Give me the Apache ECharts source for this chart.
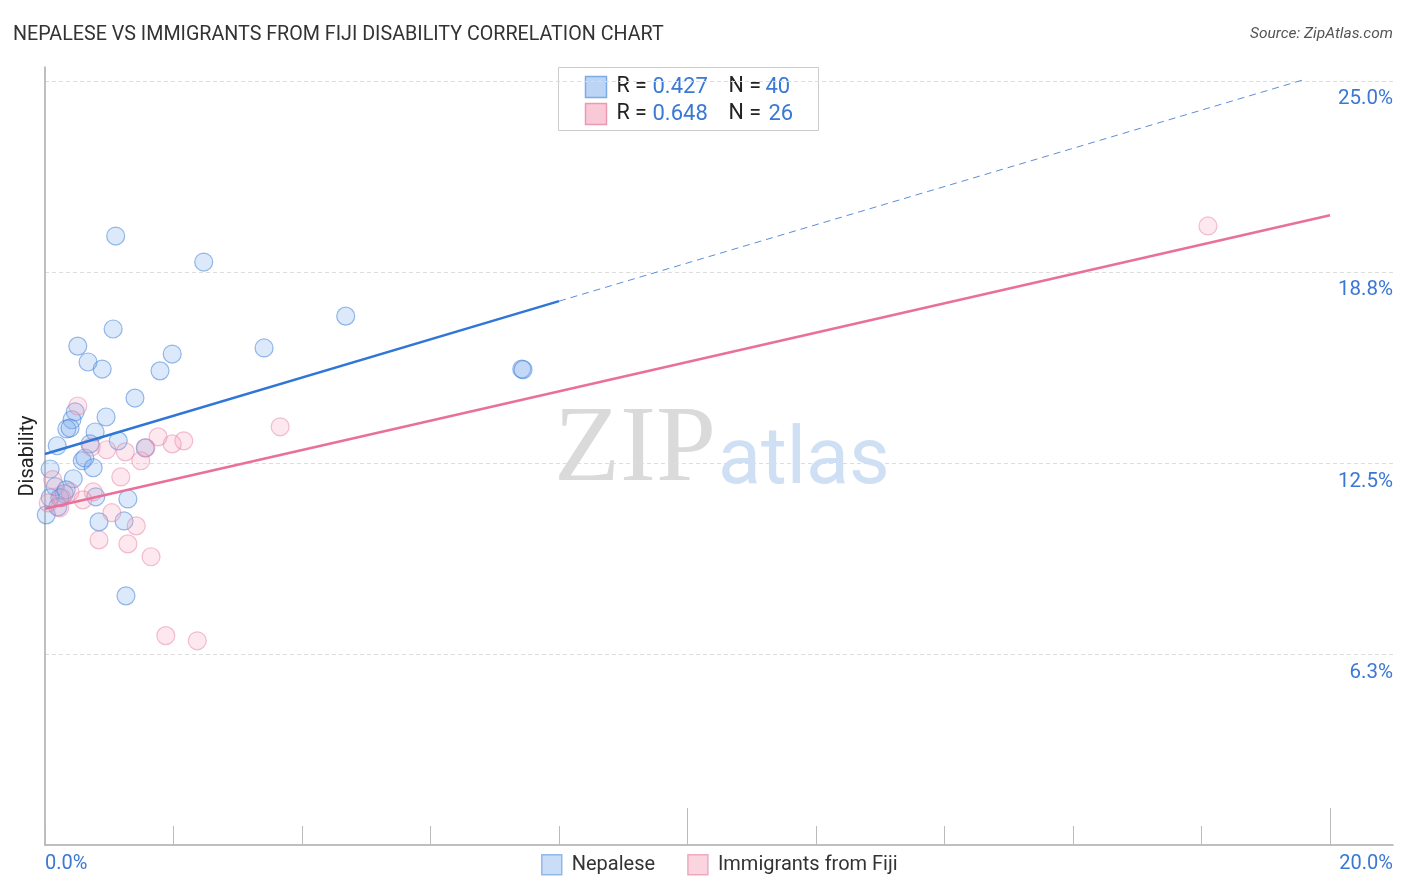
<!DOCTYPE html>
<html>
<head>
<meta charset="utf-8">
<script src="https://cdn.jsdelivr.net/npm/echarts@6/dist/echarts.min.js"></script>
<style>html,body{margin:0;padding:0;background:#fff;}#c{width:1406px;height:892px;}</style>
</head>
<body>
<div id="c"></div>
<script>
// ---- data ----
const seriesNames = ['Nepalese', 'Immigrants from Fiji'];
const nepaleseX = [1.10, 2.47, 4.68, 1.06, 0.51, 3.41, 1.98, 0.67, 0.89, 1.79, 7.42, 7.44, 1.40, 0.47, 0.95, 0.42, 0.34, 0.39, 0.78, 0.19,
                   1.14, 0.70, 1.56, 0.58, 0.62, 0.75, 0.08, 0.44, 0.16, 0.30, 0.23, 0.08, 0.79, 1.29, 0.20, 0.02, 0.84, 1.23, 1.26, 0.33];
const nepaleseY = [19.92, 19.07, 17.30, 16.88, 16.32, 16.26, 16.06, 15.80, 15.57, 15.51, 15.57, 15.55, 14.62, 14.17, 14.00, 13.91, 13.61, 13.64, 13.51, 13.06,
                   13.22, 13.12, 12.99, 12.57, 12.66, 12.34, 12.30, 11.98, 11.72, 11.49, 11.36, 11.36, 11.39, 11.32, 11.06, 10.80, 10.57, 10.60, 8.15, 11.62];
const fijiX = [18.10, 3.66, 0.51, 1.76, 2.16, 1.98, 1.57, 0.96, 1.25, 1.49, 0.72, 1.18, 0.75, 1.04, 1.42, 0.84, 1.29, 1.65, 1.88, 2.37,
               0.12, 0.39, 0.59, 0.23, 0.05, 0.26];
const fijiY = [20.25, 13.68, 14.36, 13.35, 13.22, 13.12, 12.99, 12.93, 12.86, 12.57, 13.02, 12.04, 11.55, 10.87, 10.44, 9.98, 9.85, 9.43, 6.85, 6.68,
               11.95, 11.55, 11.29, 11.03, 11.19, 11.36];
const nepaleseTrendX = [0, 8.0];
const nepaleseTrendY = [12.79, 17.79];
const nepaleseTrendExtX = [8.0, 19.6];
const nepaleseTrendExtY = [17.79, 25.04];
const fijiTrendX = [0, 20];
const fijiTrendY = [11.0, 20.6];
const rValues = ['0.427', '0.648'];
const xTickValues = [0, 2, 4, 6, 8, 10, 12, 14, 16, 18, 20];
const xMajorTickValues = [10, 20];
const xLabelValues = [0, 20.98];
const xTickLabels = ['0.0%', '20.0%'];
const yTickValues = [6.25, 12.5, 18.75, 25];
const yTickLabels = ['6.3%', '12.5%', '18.8%', '25.0%'];
const xMin = 0, xMax = 20.98, yMin = 0, yMax = 25.45;

const zip = (xs, ys) => xs.map((x, i) => [x, ys[i]]);
const blue = '#2f76d6', pink = '#e8709a';
const FONT = 'Roboto, "Noto Sans", sans-serif';

const chart = echarts.init(document.getElementById('c'));
chart.setOption({
  backgroundColor: '#fff',
  animation: false,
  title: [
    { text: 'NEPALESE VS IMMIGRANTS FROM FIJI DISABILITY CORRELATION CHART', left: 8, top: 20,
      textStyle: { fontFamily: FONT, fontSize: 19.7, fontWeight: 'normal', color: '#333' } },
    { text: 'Source: ZipAtlas.com', right: 8, top: 21,
      textStyle: { fontFamily: FONT, fontSize: 15.5, fontStyle: 'italic', fontWeight: 'normal', color: '#555' } }
  ],
  grid: { left: 45, right: 13, top: 67, bottom: 47, containLabel: false },
  legend: {
    left: 536, top: 849, itemWidth: 20, itemHeight: 20, itemGap: 32, icon: 'rect',
    textStyle: { fontFamily: FONT, fontSize: 20, color: '#333', padding: [0, 0, 0, 5] },
    data: [
      { name: seriesNames[0], itemStyle: { color: '#bcd5f5', borderColor: '#7eaae6', borderWidth: 1.5 } },
      { name: seriesNames[1], itemStyle: { color: '#f9c9d7', borderColor: '#eb9ab4', borderWidth: 1.5 } }
    ]
  },
  xAxis: [
    { type: 'value', min: xMin, max: xMax, interval: 2,
      axisLine: { show: true, lineStyle: { color: '#aaa', width: 1.5 } },
      axisTick: { show: true, inside: true, length: 19, customValues: xTickValues, lineStyle: { color: '#bbb' } },
      axisLabel: { show: true, customValues: xLabelValues, margin: 9,
        formatter: (v) => v < 1 ? xTickLabels[0] : xTickLabels[1],
        alignMinLabel: 'left', alignMaxLabel: 'right',
        fontFamily: FONT, fontSize: 20, color: '#3a78d4' },
      splitLine: { show: false } },
    { type: 'value', min: xMin, max: xMax, interval: 10, position: 'bottom',
      axisLine: { show: false },
      axisTick: { show: true, inside: true, length: 37, customValues: xMajorTickValues, lineStyle: { color: '#bbb' } },
      axisLabel: { show: false }, splitLine: { show: false } }
  ],
  yAxis: [
    { type: 'value', min: yMin, max: yMax, interval: 6.25, position: 'right',
      axisLine: { show: false }, axisTick: { show: false },
      axisLabel: { show: true, inside: true, customValues: yTickValues,
        formatter: (v) => yTickLabels[yTickValues.indexOf(v)],
        align: 'right', verticalAlign: 'top', padding: [8, 0, 0, 0], margin: 0,
        fontFamily: FONT, fontSize: 20.5, color: '#3a78d4' },
      splitLine: { show: true, showMinLine: false, showMaxLine: false, lineStyle: { color: '#ddd', type: [4, 3], width: 1 } } },
    { type: 'value', min: yMin, max: yMax, position: 'left', name: 'Disability',
      nameLocation: 'middle', nameGap: 7, nameRotate: 90,
      nameTextStyle: { fontFamily: FONT, fontSize: 20, color: '#222' },
      axisLine: { show: true, lineStyle: { color: '#aaa', width: 1.5 } }, axisTick: { show: false },
      axisLabel: { show: false }, splitLine: { show: false } }
  ],
  graphic: [
    { type: 'text', left: 554, top: 398, z: 0, silent: true,
      style: { text: 'ZIP', font: '108px "Liberation Serif", "DejaVu Serif", serif', fill: '#dadada' } },
    { type: 'text', left: 718, top: 424, z: 0, silent: true,
      style: { text: 'atlas', font: '79px Roboto, "Noto Sans", sans-serif', fill: '#d0e0f4' } },
    { type: 'group', left: 558, top: 67, z: 100, children: [
      { type: 'rect', shape: { x: 0, y: 0, width: 260, height: 63 }, style: { fill: '#fff', stroke: '#ccc', lineWidth: 1 } },
      { type: 'rect', shape: { x: 27, y: 9, width: 21, height: 21 }, style: { fill: '#bcd5f5', stroke: '#7eaae6', lineWidth: 1.5 } },
      { type: 'rect', shape: { x: 27, y: 36, width: 21, height: 21 }, style: { fill: '#f9c9d7', stroke: '#eb9ab4', lineWidth: 1.5 } },
      { type: 'text', x: 58, y: 19.5, style: { text: 'R = ', font: '21.5px ' + FONT, fill: '#222', verticalAlign: 'middle' } },
      { type: 'text', x: 94, y: 19.5, style: { text: rValues[0], font: '22px ' + FONT, fill: '#3a78d4', verticalAlign: 'middle' } },
      { type: 'text', x: 170, y: 19.5, style: { text: 'N = ', font: '21.5px ' + FONT, fill: '#222', verticalAlign: 'middle' } },
      { type: 'text', x: 207, y: 19.5, style: { text: String(nepaleseX.length), font: '22px ' + FONT, fill: '#3a78d4', verticalAlign: 'middle' } },
      { type: 'text', x: 58, y: 46.5, style: { text: 'R = ', font: '21.5px ' + FONT, fill: '#222', verticalAlign: 'middle' } },
      { type: 'text', x: 94, y: 46.5, style: { text: rValues[1], font: '22px ' + FONT, fill: '#3a78d4', verticalAlign: 'middle' } },
      { type: 'text', x: 170, y: 46.5, style: { text: 'N = ', font: '21.5px ' + FONT, fill: '#222', verticalAlign: 'middle' } },
      { type: 'text', x: 210, y: 46.5, style: { text: String(fijiX.length), font: '22px ' + FONT, fill: '#3a78d4', verticalAlign: 'middle' } }
    ]}
  ],
  series: [
    { name: seriesNames[0], type: 'scatter', data: zip(nepaleseX, nepaleseY), symbolSize: 18, z: 3,
      itemStyle: { color: 'rgba(120,170,235,0.32)', borderColor: 'rgba(60,125,215,0.65)', borderWidth: 1.2 } },
    { name: seriesNames[1], type: 'scatter', data: zip(fijiX, fijiY), symbolSize: 18, z: 3,
      itemStyle: { color: 'rgba(245,165,190,0.32)', borderColor: 'rgba(230,125,160,0.6)', borderWidth: 1.2 } },
    { name: seriesNames[0], type: 'line', data: zip(nepaleseTrendX, nepaleseTrendY), symbol: 'none', z: 5,
      lineStyle: { color: blue, width: 2.5 } },
    { name: seriesNames[0], type: 'line', data: zip(nepaleseTrendExtX, nepaleseTrendExtY), symbol: 'none', z: 5,
      lineStyle: { color: '#5b8fd8', width: 1, type: [7, 5] } },
    { name: seriesNames[1], type: 'line', data: zip(fijiTrendX, fijiTrendY), symbol: 'none', z: 5,
      lineStyle: { color: pink, width: 2.5 } }
  ]
});
</script>
</body>
</html>
